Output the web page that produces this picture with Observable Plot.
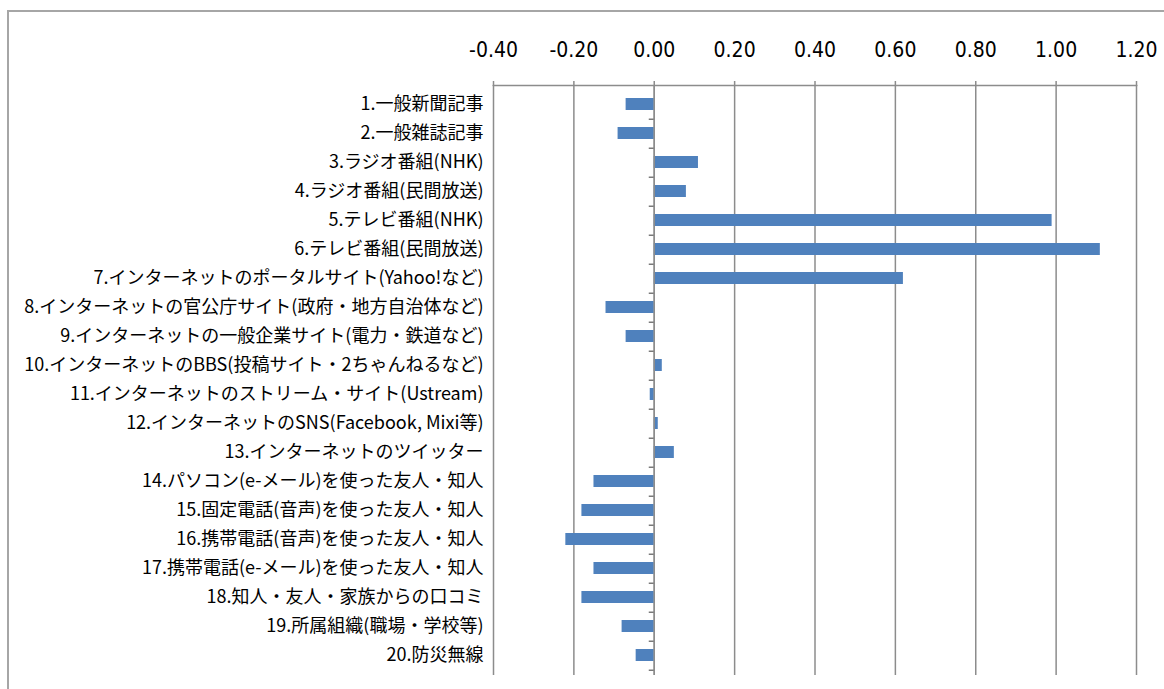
<!DOCTYPE html>
<html>
<head>
<meta charset="utf-8">
<script src="https://cdn.jsdelivr.net/npm/d3@7"></script>
<script src="https://cdn.jsdelivr.net/npm/@observablehq/plot@0.6"></script>
<style>
  html, body { margin: 0; padding: 0; background: #fff; }
  #wrap { position: relative; width: 1164px; height: 689px; overflow: hidden; }
  #border { position: absolute; left: 7px; top: 10px; width: 1200px; height: 800px;
            border-left: 2px solid #a6a6a6; border-top: 2px solid #a6a6a6; pointer-events: none; }
</style>
</head>
<body>
<div id="wrap"><div id="border"></div></div>
<script>
const categories = [
  "1.一般新聞記事",
  "2.一般雑誌記事",
  "3.ラジオ番組(NHK)",
  "4.ラジオ番組(民間放送)",
  "5.テレビ番組(NHK)",
  "6.テレビ番組(民間放送)",
  "7.インターネットのポータルサイト(Yahoo!など)",
  "8.インターネットの官公庁サイト(政府・地方自治体など)",
  "9.インターネットの一般企業サイト(電力・鉄道など)",
  "10.インターネットのBBS(投稿サイト・2ちゃんねるなど)",
  "11.インターネットのストリーム・サイト(Ustream)",
  "12.インターネットのSNS(Facebook, Mixi等)",
  "13.インターネットのツイッター",
  "14.パソコン(e-メール)を使った友人・知人",
  "15.固定電話(音声)を使った友人・知人",
  "16.携帯電話(音声)を使った友人・知人",
  "17.携帯電話(e-メール)を使った友人・知人",
  "18.知人・友人・家族からの口コミ",
  "19.所属組織(職場・学校等)",
  "20.防災無線"
];
const values = [-0.07, -0.09, 0.11, 0.08, 0.99, 1.11, 0.62, -0.12, -0.07, 0.02,
                -0.01, 0.01, 0.05, -0.15, -0.18, -0.22, -0.15, -0.18, -0.08, -0.045];
const xTicks = [-0.4, -0.2, 0, 0.2, 0.4, 0.6, 0.8, 1.0, 1.2];

const data = categories.map((c, i) => ({category: c, value: values[i]}));

const W = 1164, H = 689;
const mTop = 85, mBottom = 14, mLeft = 493, mRight = 28;
const step = (H - mTop - mBottom) / categories.length;
const pxPerUnit = (W - mLeft - mRight) / 1.6;

const chart = Plot.plot({
  width: W,
  height: H,
  marginTop: mTop,
  marginBottom: mBottom,
  marginLeft: mLeft,
  marginRight: mRight,
  style: {background: "transparent", overflow: "visible"},
  x: {domain: [-0.4, 1.2]},
  y: {domain: categories, paddingInner: 0.58, paddingOuter: 0.29},
  marks: [
    Plot.ruleX(xTicks, {stroke: "#8c8c8c", strokeWidth: 1.5}),
    Plot.frame({anchor: "top", stroke: "#8c8c8c", strokeWidth: 1.5}),
    Plot.barX(data, {x: "value", y: "category", fill: "#4f81bd"}),
    Plot.ruleX([0], {stroke: "#8c8c8c", strokeWidth: 1.5}),
    Plot.ruleY(categories, {y: d => d, x1: -5 / pxPerUnit, x2: 0, dy: step / 2, stroke: "#7a7a7a", strokeWidth: 1.5}),
    Plot.axisX({
      anchor: "top",
      ticks: xTicks,
      tickFormat: d => d.toFixed(2),
      tickSize: 5,
      tickPadding: 24,
      stroke: "#8c8c8c",
      strokeWidth: 1.5,
      fontSize: 21,
      fontFamily: "'Liberation Sans Narrow', 'DejaVu Sans Condensed', sans-serif",
      fill: "#000",
      label: null
    }),
    Plot.axisY({
      anchor: "left",
      tickSize: 0,
      tickPadding: 10,
      fontSize: 18,
      fontFamily: "'Liberation Sans Narrow', 'Noto Sans CJK JP', sans-serif",
      fill: "#000",
      label: null
    })
  ]
});
document.getElementById("wrap").appendChild(chart);
chart.style.position = "absolute";
chart.style.left = "0px";
chart.style.top = "0px";
</script>
</body>
</html>
